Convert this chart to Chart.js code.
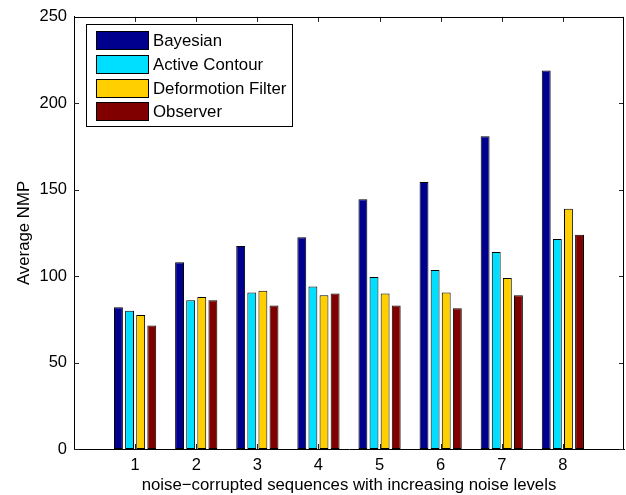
<!DOCTYPE html>
<html>
<head>
<meta charset="utf-8">
<script src="https://cdn.jsdelivr.net/npm/chart.js@4.4.1/dist/chart.umd.min.js"></script>
<style>
  html, body { margin: 0; padding: 0; background: #fff; }
  #c { display: block; }
</style>
</head>
<body>
<canvas id="c" width="626" height="495"></canvas>
<script>
// ---- data ----
const categories = [1, 2, 3, 4, 5, 6, 7, 8];
const bayesian = [82, 108, 117.5, 122.5, 144.5, 154.5, 181, 219];
const activeContour = [80, 86, 90.5, 94, 99.5, 103.5, 114, 121.5];
const deformotionFilter = [77.5, 88, 91.5, 89, 90, 90.5, 99, 139];
const observer = [71.5, 86, 83, 90, 83, 81.5, 89, 124];
const seriesNames = ['Bayesian', 'Active Contour', 'Deformotion Filter', 'Observer'];
const yTicks = [0, 50, 100, 150, 200, 250];
const xTitle = 'noise\u2212corrupted sequences with increasing noise levels';
const yTitle = 'Average NMP';

const colors = ['#00008f', '#00dfff', '#ffcf00', '#800000'];
const FONT = '"Liberation Sans", Arial, Helvetica, sans-serif';

const seriesValues = [bayesian, activeContour, deformotionFilter, observer];
const datasets = seriesValues.map((vals, k) => ({
  label: seriesNames[k],
  data: categories.map((c, i) => ({ x: c, y: vals[i] })),
  backgroundColor: colors[k],
  borderColor: '#000',
  borderWidth: 1,
  borderSkipped: false,
  categoryPercentage: 0.727,
  barPercentage: 0.8
}));

const frame = {
  id: 'frame',
  beforeDatasetsDraw(chart) {
    const { ctx, chartArea: a, scales: { x, y } } = chart;
    ctx.save();
    ctx.strokeStyle = '#222';
    ctx.lineWidth = 1;
    ctx.beginPath();
    const L = 5;
    yTicks.forEach(v => {
      const py = Math.round(y.getPixelForValue(v)) + 0.5;
      ctx.moveTo(a.left, py); ctx.lineTo(a.left + L, py);
      ctx.moveTo(a.right, py); ctx.lineTo(a.right - L, py);
    });
    categories.forEach(v => {
      const px = Math.round(x.getPixelForValue(v)) + 0.5;
      ctx.moveTo(px, a.bottom); ctx.lineTo(px, a.bottom - L);
      ctx.moveTo(px, a.top); ctx.lineTo(px, a.top + L);
    });
    ctx.stroke();
    ctx.restore();
  },
  afterDraw(chart) {
    const { ctx, chartArea: a } = chart;
    ctx.save();
    ctx.strokeStyle = '#000';
    ctx.lineWidth = 1;
    ctx.beginPath();
    ctx.moveTo(a.left, Math.round(a.top) + 0.5);
    ctx.lineTo(a.right, Math.round(a.top) + 0.5);
    ctx.moveTo(Math.round(a.right) - 0.5, a.top);
    ctx.lineTo(Math.round(a.right) - 0.5, a.bottom);
    ctx.stroke();

    // legend
    const bx = 86.5, by = 24.5, bw = 206, bh = 102;
    ctx.fillStyle = '#fff';
    ctx.fillRect(bx, by, bw, bh);
    ctx.strokeStyle = '#000';
    ctx.strokeRect(bx, by, bw, bh);
    ctx.font = '16.8px ' + FONT;
    ctx.textBaseline = 'middle';
    ctx.textAlign = 'left';
    chart.data.datasets.forEach((ds, i) => {
      const ry = 31 + i * 23.8;
      ctx.fillStyle = ds.backgroundColor;
      ctx.fillRect(96.5, Math.round(ry) + 0.5, 52, 18);
      ctx.strokeStyle = '#000';
      ctx.strokeRect(96.5, Math.round(ry) + 0.5, 52, 18);
      ctx.fillStyle = '#000';
      ctx.fillText(ds.label, 153, Math.round(ry) + 10);
    });
    ctx.restore();
  }
};

new Chart(document.getElementById('c'), {
  type: 'bar',
  data: { datasets },
  options: {
    responsive: false,
    animation: false,
    devicePixelRatio: 1,
    layout: { padding: { top: 14, right: 2, left: 0, bottom: 0 } },
    plugins: { legend: { display: false }, tooltip: { enabled: false } },
    scales: {
      x: {
        type: 'linear',
        min: 0,
        max: 9,
        offset: false,
        afterBuildTicks: s => { s.ticks = categories.map(v => ({ value: v })); },
        afterFit: s => { s.height = 46; },
        grid: { display: false, drawTicks: false },
        border: { display: true, color: '#000', width: 1 },
        ticks: { color: '#000', font: { family: FONT, size: 16.5 }, padding: 7, maxRotation: 0, autoSkip: false,
                 callback: v => String(v) },
        title: { display: true, text: xTitle, color: '#000', font: { family: FONT, size: 16.8 },
                 padding: { top: 0, bottom: 0 } }
      },
      y: {
        min: 0,
        max: 250,
        afterBuildTicks: s => { s.ticks = yTicks.map(v => ({ value: v })); },
        afterFit: s => { s.width = 74; },
        grid: { display: false, drawTicks: false },
        border: { display: true, color: '#000', width: 1 },
        ticks: { color: '#000', font: { family: FONT, size: 16.5 }, padding: 7 },
        title: { display: true, text: yTitle, color: '#000', font: { family: FONT, size: 16.8 },
                 padding: { top: 14, bottom: 0 } }
      }
    }
  },
  plugins: [frame]
});
</script>
</body>
</html>
